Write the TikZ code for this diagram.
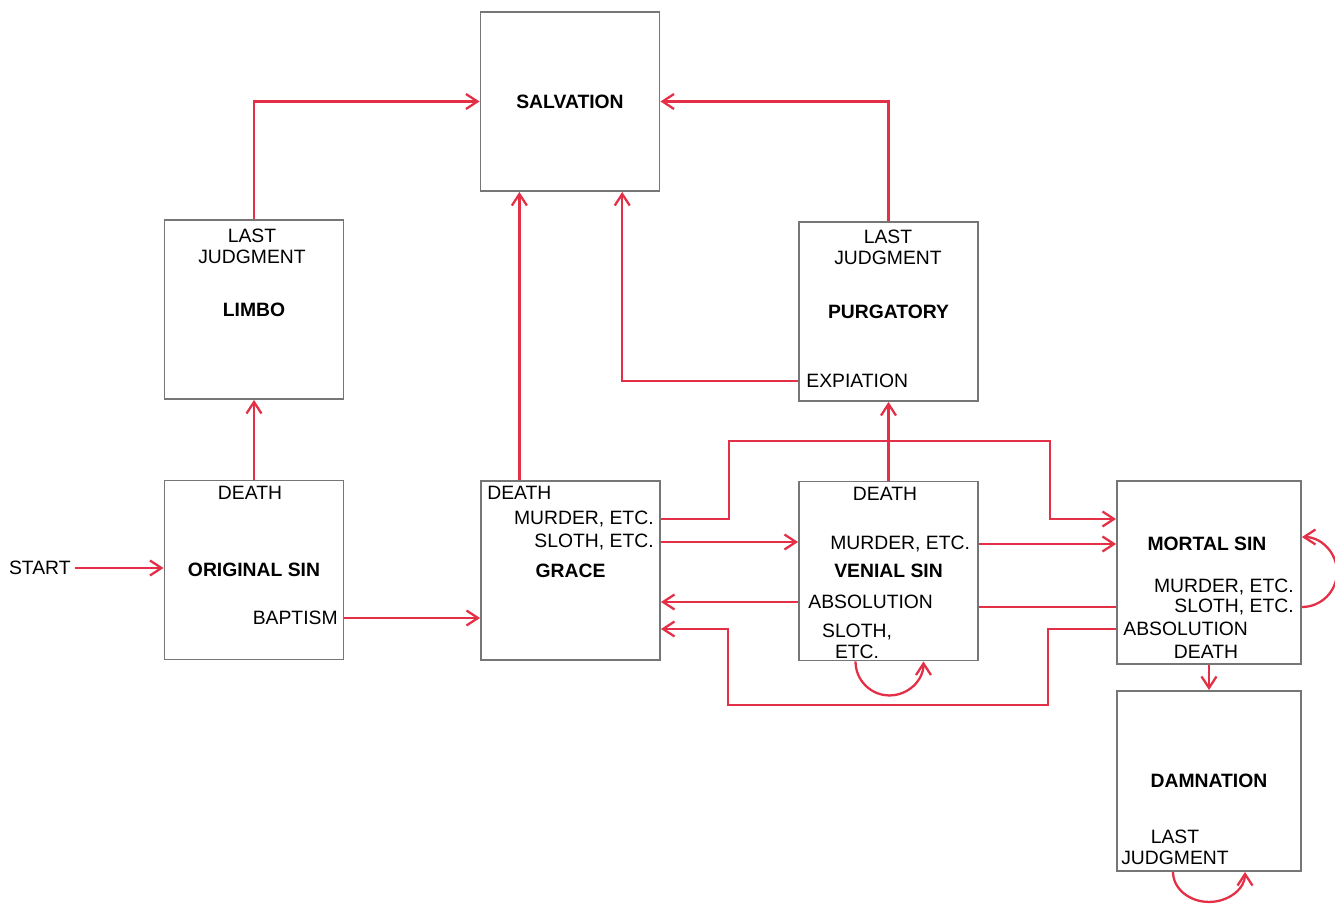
\documentclass[tikz,border=0pt]{standalone}
\usepackage{fontspec}
\setmainfont{Liberation Sans}
\usetikzlibrary{arrows.meta}
\definecolor{sinred}{RGB}{228,48,70}
\definecolor{boxgray}{RGB}{118,118,118}
\begin{document}
\begin{tikzpicture}[x=0.02cm, y=0.02cm,
	every node/.style={font=\fontsize{11}{11.8}\selectfont, inner sep=0pt},
	stage/.style={draw=boxgray, line width=1.1pt, minimum width=3.58cm,
		minimum height=3.58cm, font=\fontsize{11}{11.8}\selectfont\bfseries},
	wide/.style={minimum width=3.68cm},
	title/.style={font=\fontsize{11}{11.8}\selectfont\bfseries},
	flow/.style={draw=sinred, line width=1.3pt, -{Straight Barb[length=2.3mm,width=3mm]}},
	wire/.style={draw=sinred, line width=1.3pt}]
	\useasboundingbox (0, 0) rectangle (1335, 903);
	\node[stage] (salv) at (570, 801.5) {SALVATION};
	\node[stage] (limbo) at (254, 593.5) {LIMBO};
	\node[stage] (purg) at (888.5, 591.5) {PURGATORY};
	\node[stage] (orig) at (254, 333) {ORIGINAL SIN};
	\node[stage] (grace) at (570.5, 332.5) {GRACE};
	\node[stage] (venial) at (888.5, 332) {VENIAL SIN};
	\node[stage, wide, minimum height=3.66cm] (mortal) at (1209, 330.5) {};
	\node[stage, wide, minimum height=3.6cm] (damn) at (1209, 122) {DAMNATION};
	\node[align=center] (limbojudg) at (252, 656.5) {LAST\\JUDGMENT};
	\node[align=center] (purgjudg) at (888, 656) {LAST\\JUDGMENT};
	\node[anchor=west] (expi) at (806, 522) {EXPIATION};
	\node (odeath) at (250, 410) {DEATH};
	\node[anchor=east] (bapt) at (338, 285) {BAPTISM};
	\node[anchor=west] (gdeath) at (487, 410) {DEATH};
	\node[anchor=east] (gmurder) at (654, 384) {MURDER, ETC.};
	\node[anchor=east] (gsloth) at (654, 361) {SLOTH, ETC.};
	\node (vdeath) at (885, 409) {DEATH};
	\node[anchor=west] (vmurder) at (830, 359) {MURDER, ETC.};
	\node[anchor=west] (vabsol) at (808, 301) {ABSOLUTION};
	\node[align=center] (vsloth) at (857, 262) {SLOTH,\\ETC.};
	\node[title] (mortname) at (1207, 359) {MORTAL SIN};
	\node[anchor=east] (mmurder) at (1294, 316) {MURDER, ETC.};
	\node[anchor=east] (msloth) at (1294, 296) {SLOTH, ETC.};
	\node[anchor=west] (mabsol) at (1123, 274) {ABSOLUTION};
	\node (mdeath) at (1206, 251) {DEATH};
	\node[align=center] (damnjudg) at (1175, 55.5) {LAST\\JUDGMENT};
	\node[anchor=east] (start) at (71, 335) {START};
	\draw[flow] ([xshift=2]start.east) -- (orig.west |- start.east);
	\draw[flow] (orig.north) -- (limbo.south);
	\draw[flow] (limbo.north) |- (salv.west);
	\draw[flow] (orig.east |- bapt) -- (grace.west |- bapt);
	\draw[flow] (gdeath.north |- grace.north) -- (gdeath.north |- salv.south);
	\draw[flow] (purg.west |- expi) -| (salv.-60);
	\draw[flow] (purg.north) |- (salv.east);
	\draw[flow] (venial.north) -- (purg.south);
	\draw[flow] (grace.east |- gmurder) -- ++(68,0) -- ++(0,78) -- ++(321,0) -- ++(0,-78) -- (mortal.west |- gmurder);
	\draw[flow] (grace.east |- gsloth) -- (venial.west |- gsloth);
	\draw[flow] (venial.east |- vmurder) -- (mortal.west |- vmurder);
	\draw[flow] (venial.west |- vabsol) -- (grace.east |- vabsol);
	\draw[wire] (mortal.west |- msloth) -- (venial.east |- msloth);
	\draw[flow] (mortal.west |- mabsol) -- ++(-68,0) -- ++(0,-76) -- ++(-320,0) -- ++(0,76) -- (grace.east |- mabsol);
	\draw[flow] ([xshift=-0.66cm]venial.south) arc[start angle=180, end angle=360, radius=0.68cm];
	\draw[flow] (mortal.east |- msloth) arc[start angle=-90, end angle=90, radius=0.7cm];
	\draw[flow] (mortal.south) -- (damn.north);
	\draw[flow] ([xshift=-0.72cm]damn.south) arc[start angle=180, end angle=360, x radius=0.72cm, y radius=0.6cm];
\end{tikzpicture}
\end{document}
